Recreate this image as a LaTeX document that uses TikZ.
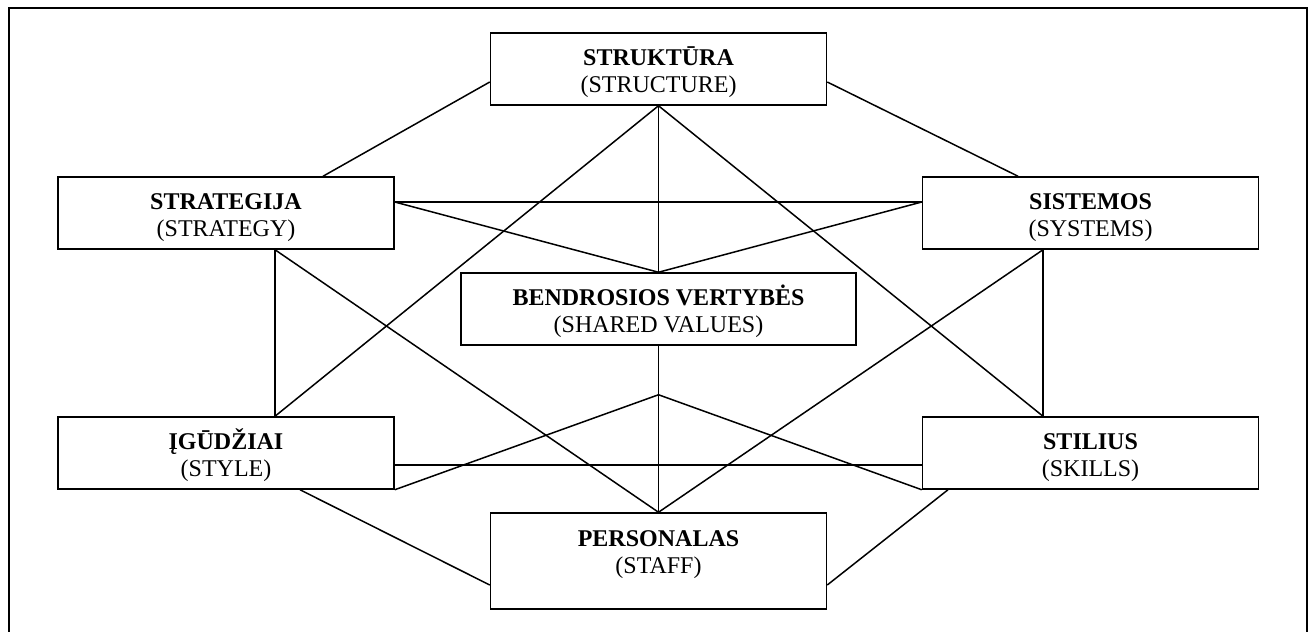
\documentclass[tikz,border=0pt]{standalone}
\usepackage{fontspec}
\setmainfont{Liberation Serif}
\usepackage{tikz}
\usetikzlibrary{positioning}

\newcommand{\lbl}[2]{\rule{0pt}{13pt}\textbf{#1}\\#2}

\begin{document}
\begin{tikzpicture}[x=0.5pt, y=-0.5pt, node distance=120pt, auto,
        box/.style={draw, line width=0.75pt, inner sep=0pt, minimum width=168pt, minimum height=36pt,
            align=center, font=\fontsize{12}{13.5}\selectfont},
        link/.style={line width=0.75pt}]
        \useasboundingbox (0,0) rectangle (1310,631);
        \clip (0,0) rectangle (1310,631);
        \draw[line width=1.2pt] (9,8) rectangle (1307,660);

        \node (struct) [box] at (658.5,69) {\lbl{STRUKTŪRA}{(STRUCTURE)}};
        \node (shared) [box, below of=struct, minimum width=197.5pt] {\lbl{BENDROSIOS VERTYBĖS}{(SHARED VALUES)}};
        \node (staff) [box, below of=shared, node distance=126pt, minimum height=48pt] {\lbl{PERSONALAS}{(STAFF)\rule[-14.5pt]{0pt}{0pt}}};

        \node (strat) [box] at (226,213) {\lbl{STRATEGIJA}{(STRATEGY)}};
        \node (igud) [box, below of=strat] {\lbl{ĮGŪDŽIAI}{(STYLE)}};
        \node (sys) [box, right of=strat, node distance=432.25pt] {\lbl{SISTEMOS}{(SYSTEMS)}};
        \node (stil) [box, below of=sys] {\lbl{STILIUS}{(SKILLS)}};

        \coordinate (apex) at ([yshift=-24.5pt]shared.south);

        \draw[link] ([yshift=-6.5pt]struct.west) -- ([xshift=48.5pt]strat.north);
        \draw[link] ([yshift=-6.5pt]struct.east) -- ([xshift=-36.25pt]sys.north);
        \draw[link] ([yshift=5.5pt]strat.east) -- ([yshift=5.5pt]sys.west);
        \draw[link] ([yshift=5.5pt]strat.east) -- (shared.north);
        \draw[link] ([yshift=5.5pt]sys.west) -- (shared.north);
        \draw[link] (struct.south) -- (shared.north);
        \draw[link] (struct.south) -- ([xshift=24.5pt]igud.north);
        \draw[link] (struct.south) -- ([xshift=-23.75pt]stil.north);

        \draw[link] ([xshift=24.5pt]strat.south) -- ([xshift=24.5pt]igud.north);
        \draw[link] ([xshift=24.5pt]strat.south) -- (staff.north);
        \draw[link] ([xshift=-23.75pt]sys.south) -- ([xshift=-23.75pt]stil.north);
        \draw[link] ([xshift=-23.75pt]sys.south) -- (staff.north);

        \draw[link] (shared.south) -- (apex) -- (staff.north);
        \draw[link] (igud.south east) -- (apex) -- (stil.south west);
        \draw[link] ([yshift=-6pt]igud.east) -- ([yshift=-6pt]stil.west);
        \draw[link] ([xshift=37pt]igud.south) -- ([yshift=-12pt]staff.west);
        \draw[link] ([xshift=-71.25pt]stil.south) -- ([yshift=-12pt]staff.east);

    \end{tikzpicture}
\end{document}
